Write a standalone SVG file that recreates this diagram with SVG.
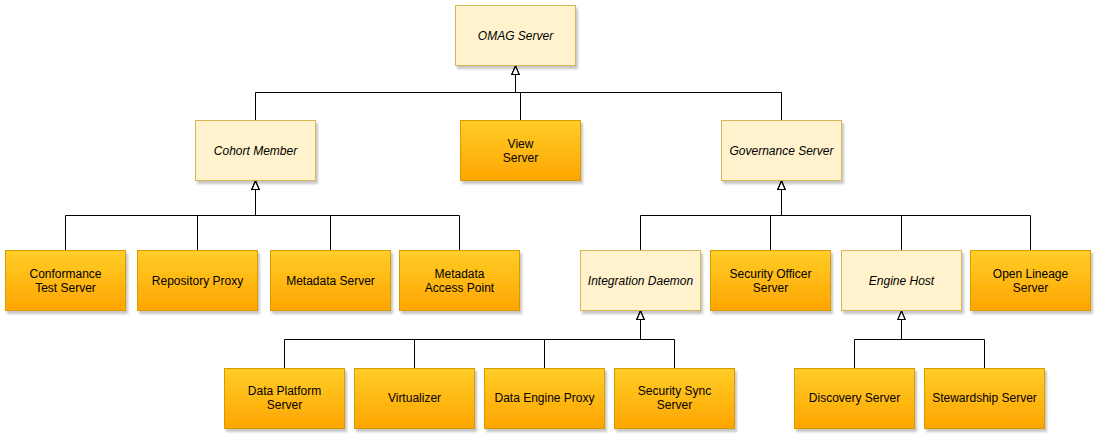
<svg xmlns="http://www.w3.org/2000/svg" width="1107" height="445" viewBox="0 0 1107 445">
  <style>
    .abstract rect { fill: #fff2cc; stroke: #d6b656; stroke-width: 1; filter: url(#shadow); }
    .concrete rect { fill: url(#orange); stroke: #d79b00; stroke-width: 1; filter: url(#shadow); }
    text { font-family: "Liberation Sans", Arial, Helvetica, sans-serif; font-size: 12px; fill: #000; text-anchor: middle; }
    .abstract text { font-style: italic; }
    #connectors path { fill: none; stroke: #000; stroke-width: 1; }
  </style>
  <defs>
    <linearGradient id="orange" x1="0" y1="0" x2="0" y2="1">
      <stop offset="0" stop-color="#ffcd28"/>
      <stop offset="1" stop-color="#ffa500"/>
    </linearGradient>
    <filter id="shadow" x="-10%" y="-10%" width="125%" height="135%">
      <feDropShadow dx="2" dy="3" stdDeviation="1.2" flood-color="#000" flood-opacity="0.22"/>
    </filter>
    <!-- hollow triangle for generalisation -->
    <marker id="gen" viewBox="0 0 10 10" refX="10" refY="5" markerWidth="9" markerHeight="9" markerUnits="userSpaceOnUse" orient="auto">
      <path d="M0.5,1 L10,5 L0.5,9 Z" fill="#fff" stroke="#000" stroke-width="1.2"/>
    </marker>
  </defs>

  <rect width="1107" height="445" fill="#fff"/>

  <g id="connectors">
    <!-- to OMAG Server -->
    <path d="M255.5,120.5 V92.5 H515.5 V66" marker-end="url(#gen)"/>
    <path d="M520.5,120.5 V92.5 H515.5 V66" marker-end="url(#gen)"/>
    <path d="M781.5,120.5 V92.5 H515.5 V66" marker-end="url(#gen)"/>
    <!-- to Cohort Member -->
    <path d="M65.5,250.5 V215.5 H255.5 V181" marker-end="url(#gen)"/>
    <path d="M197.5,250.5 V215.5 H255.5 V181" marker-end="url(#gen)"/>
    <path d="M330.5,250.5 V215.5 H255.5 V181" marker-end="url(#gen)"/>
    <path d="M459.5,250.5 V215.5 H255.5 V181" marker-end="url(#gen)"/>
    <!-- to Governance Server -->
    <path d="M640.5,250.5 V215.5 H781.5 V181" marker-end="url(#gen)"/>
    <path d="M770.5,250.5 V215.5 H781.5 V181" marker-end="url(#gen)"/>
    <path d="M901.5,250.5 V215.5 H781.5 V181" marker-end="url(#gen)"/>
    <path d="M1030.5,250.5 V215.5 H781.5 V181" marker-end="url(#gen)"/>
    <!-- to Integration Daemon -->
    <path d="M284.5,368.5 V339.5 H640.5 V311" marker-end="url(#gen)"/>
    <path d="M414.5,368.5 V339.5 H640.5 V311" marker-end="url(#gen)"/>
    <path d="M544.5,368.5 V339.5 H640.5 V311" marker-end="url(#gen)"/>
    <path d="M674.5,368.5 V339.5 H640.5 V311" marker-end="url(#gen)"/>
    <!-- to Engine Host -->
    <path d="M854.5,368.5 V339.5 H901.5 V311" marker-end="url(#gen)"/>
    <path d="M984.5,368.5 V339.5 H901.5 V311" marker-end="url(#gen)"/>
  </g>

  <g id="omag-server" class="abstract">
    <rect x="455.5" y="5.5" width="120" height="60"/>
    <text x="515.5" y="40">OMAG Server</text>
  </g>

  <g id="cohort-member" class="abstract">
    <rect x="195.5" y="120.5" width="120" height="60"/>
    <text x="255.5" y="155">Cohort Member</text>
  </g>
  <g id="view-server" class="concrete">
    <rect x="460.5" y="120.5" width="120" height="60"/>
    <text x="520.5" y="148">View</text>
    <text x="520.5" y="162">Server</text>
  </g>
  <g id="governance-server" class="abstract">
    <rect x="721.5" y="120.5" width="120" height="60"/>
    <text x="781.5" y="155">Governance Server</text>
  </g>

  <g id="conformance-test-server" class="concrete">
    <rect x="5.5" y="250.5" width="120" height="60"/>
    <text x="65.5" y="278">Conformance</text>
    <text x="65.5" y="292">Test Server</text>
  </g>
  <g id="repository-proxy" class="concrete">
    <rect x="137.5" y="250.5" width="120" height="60"/>
    <text x="197.5" y="285">Repository Proxy</text>
  </g>
  <g id="metadata-server" class="concrete">
    <rect x="270.5" y="250.5" width="120" height="60"/>
    <text x="330.5" y="285">Metadata Server</text>
  </g>
  <g id="metadata-access-point" class="concrete">
    <rect x="399.5" y="250.5" width="120" height="60"/>
    <text x="459.5" y="278">Metadata</text>
    <text x="459.5" y="292">Access Point</text>
  </g>

  <g id="integration-daemon" class="abstract">
    <rect x="580.5" y="250.5" width="120" height="60"/>
    <text x="640.5" y="285">Integration Daemon</text>
  </g>
  <g id="security-officer-server" class="concrete">
    <rect x="710.5" y="250.5" width="120" height="60"/>
    <text x="770.5" y="278">Security Officer</text>
    <text x="770.5" y="292">Server</text>
  </g>
  <g id="engine-host" class="abstract">
    <rect x="841.5" y="250.5" width="120" height="60"/>
    <text x="901.5" y="285">Engine Host</text>
  </g>
  <g id="open-lineage-server" class="concrete">
    <rect x="970.5" y="250.5" width="120" height="60"/>
    <text x="1030.5" y="278">Open Lineage</text>
    <text x="1030.5" y="292">Server</text>
  </g>

  <g id="data-platform-server" class="concrete">
    <rect x="224.5" y="368.5" width="120" height="60"/>
    <text x="284.5" y="395">Data Platform</text>
    <text x="284.5" y="409">Server</text>
  </g>
  <g id="virtualizer" class="concrete">
    <rect x="354.5" y="368.5" width="120" height="60"/>
    <text x="414.5" y="402">Virtualizer</text>
  </g>
  <g id="data-engine-proxy" class="concrete">
    <rect x="484.5" y="368.5" width="120" height="60"/>
    <text x="544.5" y="402">Data Engine Proxy</text>
  </g>
  <g id="security-sync-server" class="concrete">
    <rect x="614.5" y="368.5" width="120" height="60"/>
    <text x="674.5" y="395">Security Sync</text>
    <text x="674.5" y="409">Server</text>
  </g>

  <g id="discovery-server" class="concrete">
    <rect x="794.5" y="368.5" width="120" height="60"/>
    <text x="854.5" y="402">Discovery Server</text>
  </g>
  <g id="stewardship-server" class="concrete">
    <rect x="924.5" y="368.5" width="120" height="60"/>
    <text x="984.5" y="402">Stewardship Server</text>
  </g>
</svg>
